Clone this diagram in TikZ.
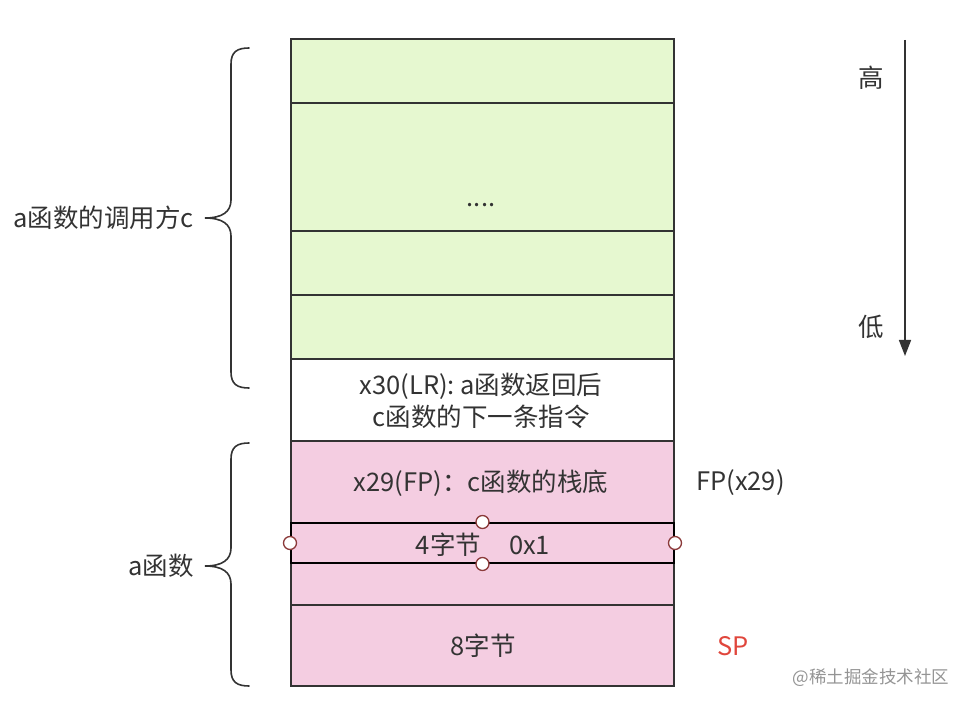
\documentclass[tikz,border=0pt]{standalone}
\usepackage{fontspec}
\setmainfont{Noto Sans CJK SC}
\usetikzlibrary{arrows.meta}
\definecolor{cellgreen}{HTML}{E6F8D0}
\definecolor{cellpink}{HTML}{F4CDE1}
\definecolor{edge}{HTML}{333333}
\definecolor{txt}{HTML}{333333}
\definecolor{handle}{HTML}{8B3A3A}
\definecolor{spred}{HTML}{E0463C}
\newcommand\dgfont{\fontsize{25.5}{32}\selectfont}
\tikzset{
  cell/.style={draw=edge, line width=1.4pt, minimum width=383pt, inner sep=0pt, rectangle},
  selbox/.style={draw=black, line width=2pt, minimum width=383pt, inner sep=0pt, rectangle},
  lbl/.style={text=txt, font=\dgfont, inner sep=0pt, align=center},
  brace/.style={draw=edge, line width=1.6pt, line cap=round},
  hnd/.style={circle, draw=handle, fill=white, line width=1.3pt, minimum size=13pt, inner sep=0pt},
}
\begin{document}
\begin{tikzpicture}[x=1pt,y=-1pt]
\useasboundingbox (0,0) rectangle (972,708);
% green cells
\node[cell, fill=cellgreen, minimum height=64pt] (g1) at (482.5,71) {};
\node[cell, fill=cellgreen, minimum height=128pt] (g2) at (482.5,167) {};
\node[cell, fill=cellgreen, minimum height=64pt] (g3) at (482.5,263) {};
\node[cell, fill=cellgreen, minimum height=64pt] (g4) at (482.5,327) {};
% white cell
\node[cell, fill=white, minimum height=82pt] (w1) at (482.5,400) {};
% pink cells
\node[cell, fill=cellpink, minimum height=82pt] (p1) at (482.5,482) {};
\node[cell, fill=cellpink, minimum height=42pt] (p3) at (482.5,584) {};
\node[cell, fill=cellpink, minimum height=81pt] (p4) at (482.5,645.5) {};
\node[selbox, fill=cellpink, minimum height=40pt] (p2) at (482.5,543) {};
% texts
\node[lbl] (dots) at (481,205) {....};
\node[lbl] (lr) at (481,401) {x30(LR): a函数返回后\\c函数的下一条指令};
\node[lbl] (fp) at (481,483) {x29(FP)：c函数的栈底};
\node[lbl] (four) at (483,545) {4字节\hspace{1.1em}0x1};
\node[lbl] (eight) at (483,646) {8字节};
\node[lbl, anchor=west] (fplbl) at (696,483) {FP(x29)};
\node[lbl, anchor=west, text=spred] (sp) at (717,646) {SP};
\node[lbl, anchor=east] (caller) at (194,218) {a函数的调用方c};
\node[lbl, anchor=east] (afn) at (194,566) {a函数};
% handles
\node[hnd] (hl) at (p2.west) {};
\node[hnd] (hr) at (p2.east) {};
\node[hnd] (ht) at (p2.north) {};
\node[hnd] (hb) at (p2.south) {};
% braces
\draw[brace] (249,48) .. controls (237,48) and (231,52) .. (231,64) -- (231,200)
  .. controls (231,212) and (222,218) .. (205,218)
  .. controls (222,218) and (231,224) .. (231,236) -- (231,372)
  .. controls (231,384) and (237,388) .. (249,388);
\draw[brace] (249,443) .. controls (237,443) and (231,447) .. (231,459) -- (231,548)
  .. controls (231,560) and (222,566) .. (205,566)
  .. controls (222,566) and (231,572) .. (231,584) -- (231,670)
  .. controls (231,682) and (237,686) .. (249,686);
% direction arrow
\coordinate (atop) at (905,40);
\coordinate (abot) at (905,356);
\draw[edge, line width=1.6pt, -{Triangle[length=16pt,width=12pt]}] (atop) -- (abot);
\node[lbl] (hi) at (871,78) {高};
\node[lbl] (lo) at (871,327) {低};
% watermark
\node[text=black!42, font=\fontsize{17.5}{20}\selectfont, inner sep=0pt] (wm) at (871,678) {@稀土掘金技术社区};
\end{tikzpicture}
\end{document}
